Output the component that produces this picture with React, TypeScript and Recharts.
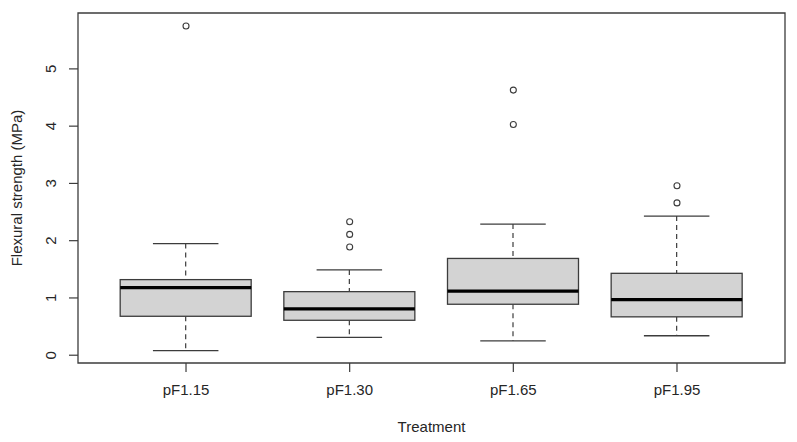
import React from 'react';
import { ComposedChart, Bar, Scatter, XAxis, YAxis, ReferenceArea } from 'recharts';

const categories = ['pF1.15', 'pF1.30', 'pF1.65', 'pF1.95'];
const lowerWhisker = [0.08, 0.31, 0.25, 0.34];
const q1 = [0.68, 0.61, 0.89, 0.67];
const median = [1.18, 0.81, 1.12, 0.97];
const q3 = [1.32, 1.11, 1.69, 1.43];
const upperWhisker = [1.95, 1.49, 2.29, 2.43];
const outliers = [[5.75], [1.89, 2.11, 2.33], [4.03, 4.63], [2.66, 2.96]];
const yTicks = [0, 1, 2, 3, 4, 5];
const xTicks = [1, 2, 3, 4];

const boxData = categories.map((name, i) => ({
  pos: i + 1,
  name,
  lo: lowerWhisker[i],
  q1: q1[i],
  med: median[i],
  q3: q3[i],
  hi: upperWhisker[i],
  range: [lowerWhisker[i], upperWhisker[i]],
}));

const outlierData = outliers.flatMap((vals, i) => vals.map((v) => ({ pos: i + 1, value: v })));

const FONT = '"Liberation Sans", Arial, sans-serif';
const TEXT = '#262626';
const LINE = '#3c3c3c';

const BoxShape = (props: any) => {
  const { x, y, width, height, payload } = props;
  if (payload == null) return null;
  const top = Math.min(y, y + height);
  const h = Math.abs(height);
  const k = h / (payload.hi - payload.lo);
  const py = (v: number) => top + (payload.hi - v) * k;
  const cx = x + width / 2;
  const capHalf = width / 4;
  return (
    <g>
      <line x1={cx} x2={cx} y1={py(payload.hi)} y2={py(payload.q3)} stroke={LINE} strokeWidth={1.2} strokeDasharray="5,4" />
      <line x1={cx} x2={cx} y1={py(payload.q1)} y2={py(payload.lo)} stroke={LINE} strokeWidth={1.2} strokeDasharray="5,4" />
      <line x1={cx - capHalf} x2={cx + capHalf} y1={py(payload.hi)} y2={py(payload.hi)} stroke={LINE} strokeWidth={1.3} />
      <line x1={cx - capHalf} x2={cx + capHalf} y1={py(payload.lo)} y2={py(payload.lo)} stroke={LINE} strokeWidth={1.3} />
      <rect x={x} y={py(payload.q3)} width={width} height={py(payload.q1) - py(payload.q3)} fill="#d3d3d3" stroke={LINE} strokeWidth={1.3} />
      <line x1={x} x2={x + width} y1={py(payload.med)} y2={py(payload.med)} stroke="#000" strokeWidth={3.3} />
    </g>
  );
};

const OutlierShape = (props: any) => {
  const { cx, cy } = props;
  return <circle cx={cx} cy={cy} r={3} fill="#fff" stroke={LINE} strokeWidth={1.1} />;
};

const XTick = (props: any) => {
  const { x, y, payload } = props;
  return (
    <text x={x} y={y} dy={21} textAnchor="middle" fontFamily={FONT} fontSize={15} fill={TEXT}>
      {categories[payload.value - 1]}
    </text>
  );
};

const YTick = (props: any) => {
  const { y, payload } = props;
  return (
    <text transform={`translate(56.4, ${y}) rotate(-90)`} textAnchor="middle" fontFamily={FONT} fontSize={15} fill={TEXT}>
      {payload.value}
    </text>
  );
};

export default function App() {
  return (
    <div style={{ position: 'absolute', left: 0, top: 0, width: 797, height: 442, background: '#fff' }}>
      <ComposedChart width={797} height={442} data={boxData} margin={{ top: 13, right: 12, bottom: 0, left: 0 }}>
        <XAxis
          dataKey="pos"
          type="number"
          domain={[0.34, 4.66]}
          ticks={xTicks}
          allowDataOverflow
          height={79}
          tickSize={9}
          tickLine={{ stroke: LINE, strokeWidth: 1.2 }}
          axisLine={false}
          tick={<XTick />}
          interval={0}
          label={({ viewBox }: any) => (
            <text x={viewBox.x + viewBox.width / 2} y={432} textAnchor="middle" fontFamily={FONT} fontSize={15} fill={TEXT}>
              Treatment
            </text>
          )}
        />
        <YAxis
          type="number"
          domain={[-0.136, 5.976]}
          ticks={yTicks}
          allowDataOverflow
          width={78}
          tickSize={9}
          tickLine={{ stroke: LINE, strokeWidth: 1.2 }}
          axisLine={false}
          tick={<YTick />}
          interval={0}
          label={({ viewBox }: any) => (
            <text transform={`translate(22, ${viewBox.y + viewBox.height / 2}) rotate(-90)`} textAnchor="middle" fontFamily={FONT} fontSize={15} fill={TEXT}>
              Flexural strength (MPa)
            </text>
          )}
        />
        <ReferenceArea x1={0.34} x2={4.66} y1={-0.136} y2={5.976} fill="none" fillOpacity={0} stroke={LINE} strokeWidth={1.3} ifOverflow="visible" />
        <Bar dataKey="range" barSize={131} shape={<BoxShape />} isAnimationActive={false} />
        <Scatter data={outlierData} dataKey="value" shape={<OutlierShape />} isAnimationActive={false} />
      </ComposedChart>
    </div>
  );
}
